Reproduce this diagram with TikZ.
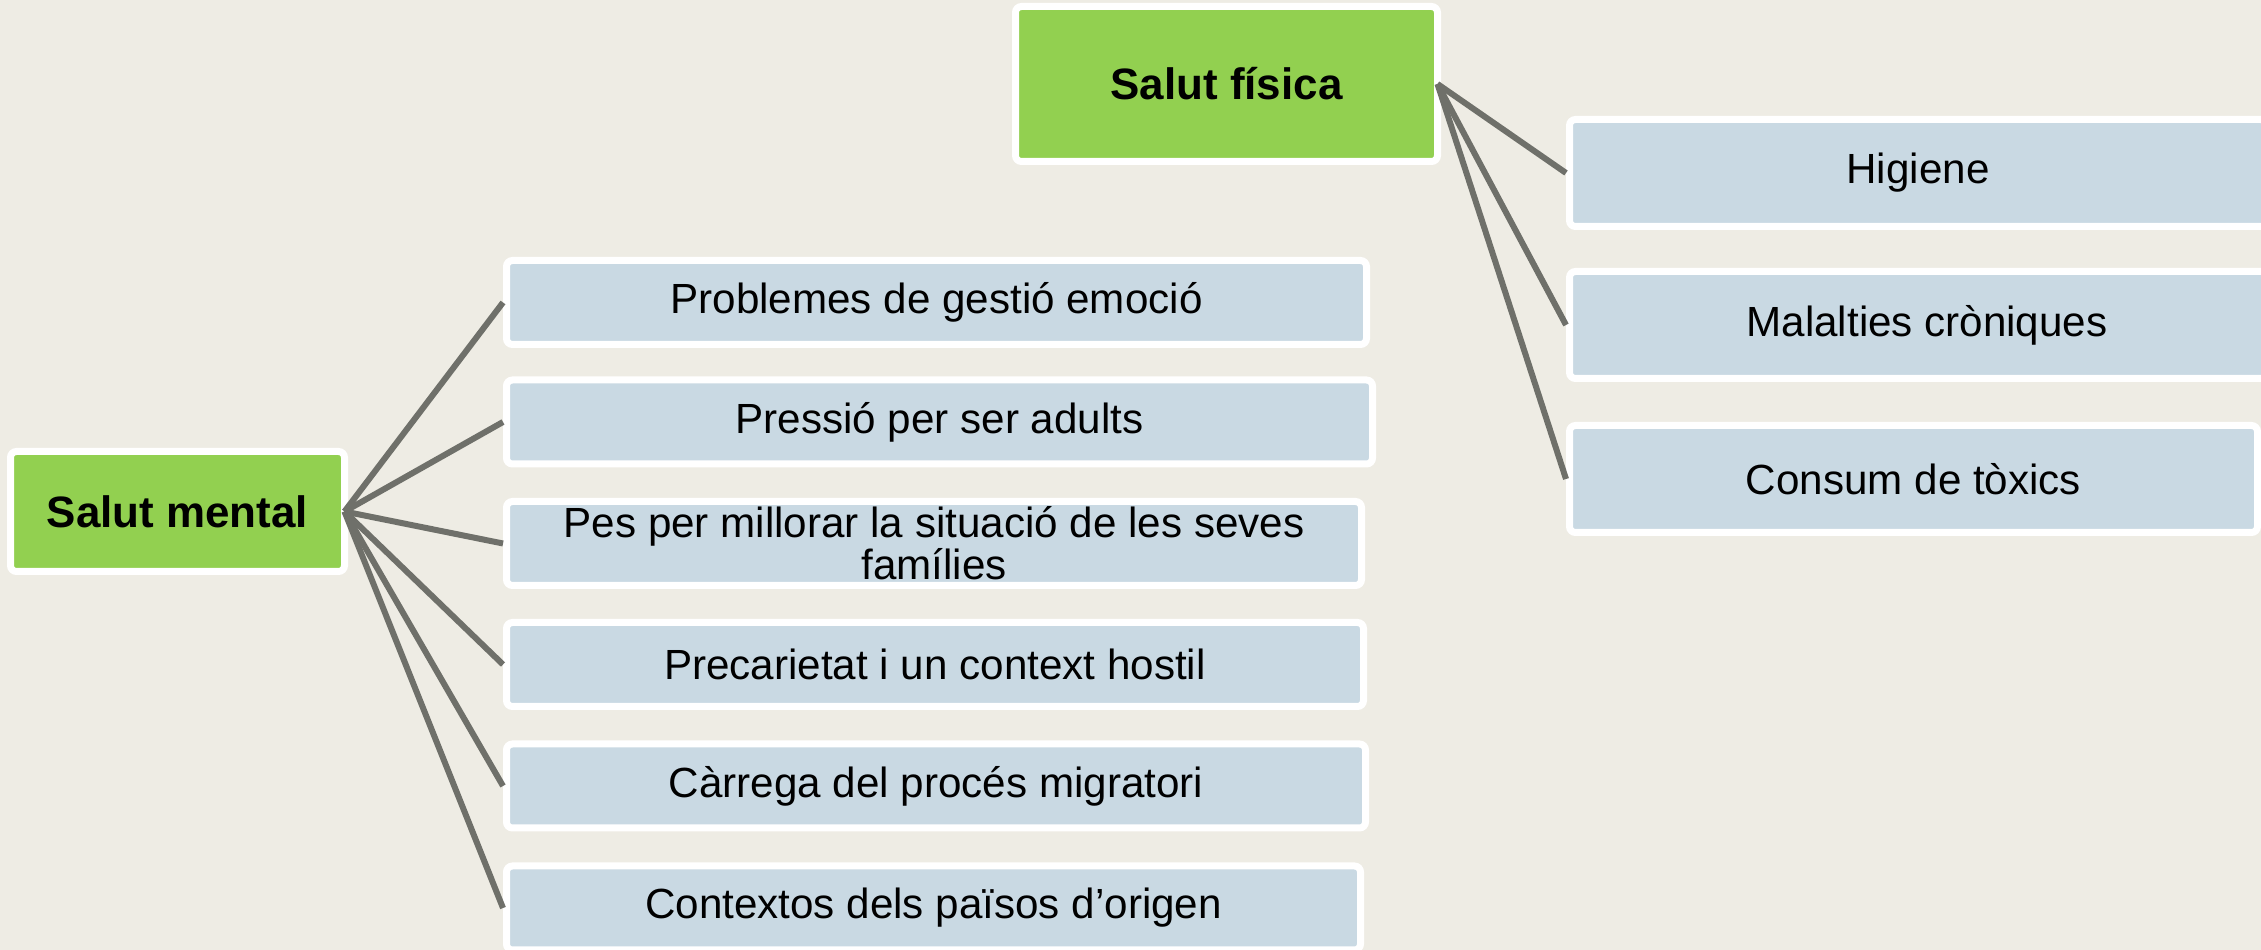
\documentclass[tikz,border=0pt]{standalone}
\usepackage{fontspec}
\setmainfont{Liberation Sans}
\usepackage{tikz}
\usetikzlibrary{positioning}

\definecolor{paper}{HTML}{EEECE4}
\definecolor{leafgreen}{HTML}{92D050}
\definecolor{boxblue}{HTML}{C9D9E3}
\definecolor{linkgray}{HTML}{6F706A}

\begin{document}
\begin{tikzpicture}[x=0.1mm, y=-0.1mm,
  rootbox/.style={draw=white, line width=0.7mm, fill=leafgreen, rounded corners=0.6mm,
    font=\bfseries\fontsize{12.5}{12.5}\selectfont, inner sep=0pt, outer sep=0pt},
  itembox/.style={draw=white, line width=0.7mm, fill=boxblue, rounded corners=0.6mm,
    font=\fontsize{12}{12}\selectfont, align=center, inner sep=0pt},
  branch/.style={linkgray, line width=0.6mm}]

  % The page
  \useasboundingbox (0,0) rectangle (2261,950);
  \clip (0,0) rectangle (2261,950);
  \fill[paper] (0,0) rectangle (2261,950);

  % The two themes
  \node[rootbox, minimum width=33.4mm, minimum height=12mm] (mental) at (177.5,511.5) {Salut mental};
  \node[rootbox, minimum width=42.2mm, minimum height=15.5mm] (fisica) at (1226.5,84) {Salut física};

  % Mental health factors
  \node[itembox, minimum width=86.0mm, minimum height=8.4mm] (gestio) at (936.5,302.5) {Problemes de gestió emoció};
  \node[itembox, minimum width=86.6mm, minimum height=8.4mm] (pressio) at (939.5,422) {Pressió per ser adults};
  \node[itembox, minimum width=85.5mm, minimum height=8.4mm] (pes) at (934,543.5) {Pes per millorar la situació de les seves\\famílies};
  \node[itembox, minimum width=85.7mm, minimum height=8.4mm] (precari) at (935,664.5) {Precarietat i un context hostil};
  \node[itembox, minimum width=85.9mm, minimum height=8.4mm] (carrega) at (936,786) {Càrrega del procés migratori};
  \node[itembox, minimum width=85.4mm, minimum height=8.4mm] (origen) at (933.5,908) {Contextos dels països d’origen};

  % Physical health factors
  \node[itembox, minimum width=69.7mm, minimum height=10.7mm] (higiene) at (1918,173) {Higiene};
  \node[itembox, minimum width=71.5mm, minimum height=10.7mm] (cronic) at (1927,325) {Malalties cròniques};
  \node[itembox, minimum width=68.8mm, minimum height=10.7mm] (toxics) at (1913.5,479) {Consum de tòxics};

  % The branches
  \draw[branch] (mental.east) -- (gestio.west);
  \draw[branch] (mental.east) -- (pressio.west);
  \draw[branch] (mental.east) -- (pes.west);
  \draw[branch] (mental.east) -- (precari.west);
  \draw[branch] (mental.east) -- (carrega.west);
  \draw[branch] (mental.east) -- (origen.west);
  \draw[branch] (fisica.east) -- (higiene.west);
  \draw[branch] (fisica.east) -- (cronic.west);
  \draw[branch] (fisica.east) -- (toxics.west);
\end{tikzpicture}
\end{document}
